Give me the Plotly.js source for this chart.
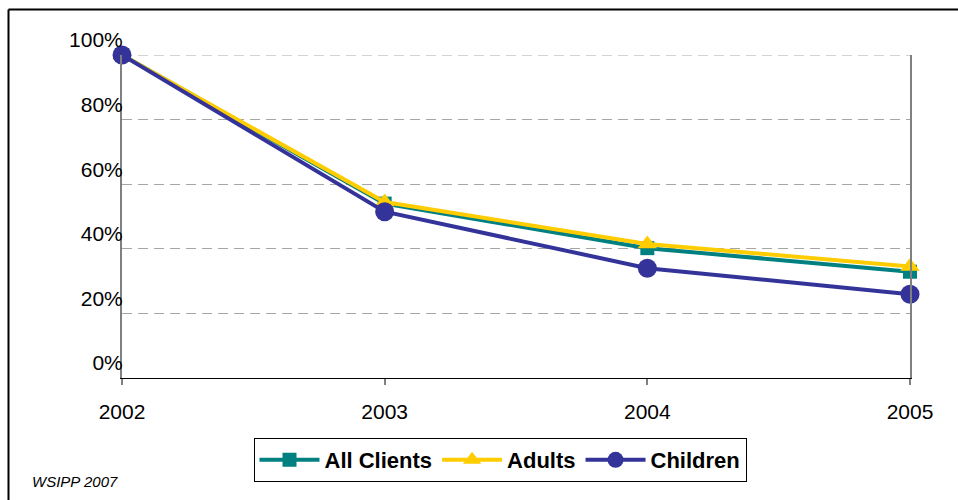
<!DOCTYPE html>
<html>
<head>
<meta charset="utf-8">
<script src="https://cdn.plot.ly/plotly-3.0.1.min.js"></script>
<style>
  html, body { margin: 0; padding: 0; background: #fff; }
  #chart { width: 958px; height: 500px; }
</style>
</head>
<body>
<div id="chart"></div>
<script>
// Share of 2002 clients still served in each later year
const years = [2002, 2003, 2004, 2005];
const allClients = [100, 54.0, 40.2, 32.9];
const adults = [100, 54.5, 41.5, 34.5];
const children = [100, 51.5, 34.0, 25.9];
const yTicks = [0, 20, 40, 60, 80, 100];
const yTickText = ['0%', '20%', '40%', '60%', '80%', '100%'];

const series = [
  { name: 'All Clients', y: allClients, color: '#008080', symbol: 'square', size: 14 },
  { name: 'Adults', y: adults, color: '#FFCC00', symbol: 'triangle-up', size: 17 },
  { name: 'Children', y: children, color: '#333399', symbol: 'circle', size: 19 }
];

const traces = series.map(s => ({
  type: 'scatter',
  mode: 'lines+markers',
  name: s.name,
  x: years,
  y: s.y,
  cliponaxis: false,
  line: { color: s.color, width: 4 },
  marker: { color: s.color, symbol: s.symbol, size: s.size, line: { width: 0 } }
}));

// plot area: x 122..910, y 55..378 (px)
const L = 122, R = 910, T = 55, B = 378;
const px = v => (v - L) / (R - L);
const py = v => (B - v) / (B - T);
const gridDash = '10px,6px';

const layout = {
  width: 958,
  height: 500,
  margin: { l: L, r: 958 - R, t: T, b: 500 - B, pad: 0 },
  paper_bgcolor: '#ffffff',
  plot_bgcolor: '#ffffff',
  font: { family: 'Liberation Sans, Arial, sans-serif', color: '#000', size: 20 },
  showlegend: true,
  xaxis: {
    range: [2002, 2005],
    tickvals: years,
    ticktext: years.map(String),
    showgrid: false,
    zeroline: false,
    showline: true,
    linecolor: '#000',
    linewidth: 1,
    ticks: 'outside',
    ticklen: 6,
    tickcolor: '#808080',
    tickwidth: 2,
    ticklabelstandoff: 9,
    tickfont: { size: 21 }
  },
  yaxis: {
    range: [0, 100],
    tickvals: yTicks,
    ticktext: yTickText,
    showgrid: true,
    gridcolor: '#a6a6a6',
    griddash: gridDash,
    gridwidth: 1,
    zeroline: false,
    showline: true,
    mirror: true,
    linecolor: '#808080',
    linewidth: 2,
    ticks: '',
    ticklabelshift: -15,
    ticklabelstandoff: -7,
    tickfont: { size: 21 }
  },
  legend: {
    orientation: 'h',
    xref: 'container',
    yref: 'container',
    x: 500 / 958,
    xanchor: 'center',
    y: 1 - 438 / 500,
    yanchor: 'top',
    bordercolor: '#000',
    borderwidth: 1,
    bgcolor: '#fff',
    itemwidth: 60,
    font: { size: 22, family: 'Liberation Sans, Arial, sans-serif', weight: 'bold' },
    traceorder: 'normal'
  },
  shapes: [
    // dashed top edge of the plot area at 100%
    { type: 'line', xref: 'paper', yref: 'y', x0: 0, x1: 1, y0: 100, y1: 100, layer: 'below',
      line: { color: '#a6a6a6', width: 1, dash: gridDash } },
    // outer frame (top and left edges)
    { type: 'line', xref: 'paper', yref: 'paper', x0: px(8.5), x1: px(970), y0: py(9.5), y1: py(9.5),
      line: { color: '#000', width: 2 } },
    { type: 'line', xref: 'paper', yref: 'paper', x0: px(8.5), x1: px(8.5), y0: py(9.5), y1: py(520),
      line: { color: '#000', width: 2 } }
  ],
  annotations: [
    { text: 'WSIPP 2007', xref: 'paper', yref: 'paper', x: px(30), y: py(481),
      xanchor: 'left', yanchor: 'middle', showarrow: false,
      font: { size: 15, style: 'italic', family: 'Liberation Sans, Arial, sans-serif' } }
  ]
};

Plotly.newPlot('chart', traces, layout, { displayModeBar: false, staticPlot: true });
</script>
</body>
</html>
